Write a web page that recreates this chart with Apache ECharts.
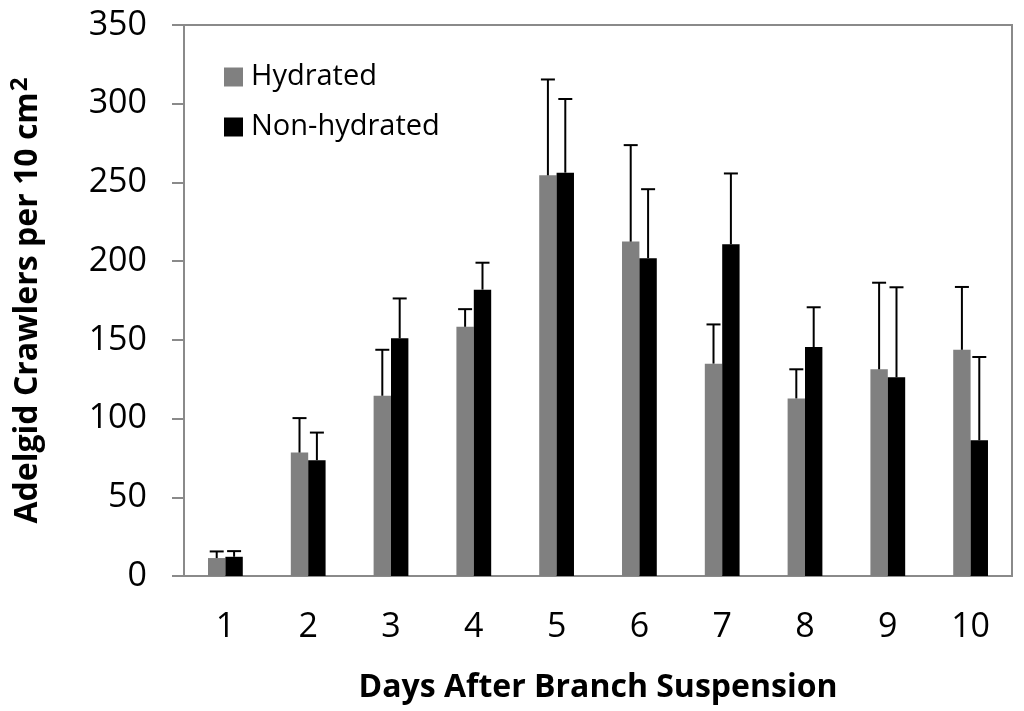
<!DOCTYPE html>
<html>
<head>
<meta charset="utf-8">
<script src="https://cdn.jsdelivr.net/npm/echarts@6/dist/echarts.min.js"></script>
<style>
  html, body { margin: 0; padding: 0; background: #fff; }
  #chart { width: 1024px; height: 711px; }
</style>
</head>
<body>
<div id="chart"></div>
<script>
// days after branch suspension
const days = ['1', '2', '3', '4', '5', '6', '7', '8', '9', '10'];

// mean crawlers per 10 cm2 and upper error (SE)
const hydrated = [11.4, 78.4, 114.5, 158.3, 254.5, 212.4, 134.9, 112.8, 131.3, 143.7];
const hydratedErr = [4.2, 21.9, 29.2, 11.2, 60.9, 61.3, 24.9, 18.5, 55.0, 39.9];
const nonHydrated = [12.2, 73.6, 151.0, 181.9, 256.2, 201.9, 210.7, 145.4, 126.2, 86.2];
const nonHydratedErr = [3.6, 17.5, 25.3, 17.1, 46.8, 43.8, 45.0, 25.3, 57.2, 52.9];

const yTicks = [0, 50, 100, 150, 200, 250, 300, 350];

const FONT = 'Open Sans';
const BAR_FRAC = 0.21;

const chart = echarts.init(document.getElementById('chart'));

// upper error bar with cap, shifted to sit over its own bar
function errorRenderer(side) {
  return function (params, api) {
    const idx = api.value(0);
    const top = api.coord([idx, api.value(1) + api.value(2)]);
    const base = api.coord([idx, api.value(1)]);
    const band = api.size([1, 0])[0];
    const barW = band * BAR_FRAC;
    const x = top[0] + side * barW / 2;
    const capHalf = 7;
    const style = { stroke: '#000', lineWidth: 2 };
    return {
      type: 'group',
      children: [
        { type: 'line', shape: { x1: x, y1: base[1], x2: x, y2: top[1] }, style: style },
        { type: 'line', shape: { x1: x - capHalf, y1: top[1], x2: x + capHalf, y2: top[1] }, style: style }
      ]
    };
  };
}

const option = {
  animation: false,
  backgroundColor: '#fff',
  textStyle: { fontFamily: FONT },
  grid: {
    left: 184,
    right: 12,
    top: 25,
    bottom: 135,
    show: true,
    borderColor: '#8a8a8a',
    borderWidth: 2
  },
  legend: {
    data: ['Hydrated', 'Non-hydrated'],
    orient: 'vertical',
    left: 219,
    top: 57,
    itemWidth: 19,
    itemHeight: 19,
    itemGap: 20,
    icon: 'rect',
    textStyle: { fontFamily: FONT, fontSize: 29, color: '#000', lineHeight: 30, padding: [0, 0, 0, 3] }
  },
  xAxis: {
    type: 'category',
    data: days,
    name: 'Days After Branch Suspension',
    nameLocation: 'middle',
    nameGap: 96,
    nameTextStyle: { fontFamily: FONT, fontSize: 32, fontWeight: 'bold', color: '#000' },
    axisLine: { lineStyle: { color: '#8a8a8a', width: 2 } },
    axisTick: { show: false },
    axisLabel: { fontFamily: FONT, fontSize: 34, color: '#000', margin: 34 }
  },
  yAxis: {
    type: 'value',
    min: yTicks[0],
    max: yTicks[yTicks.length - 1],
    interval: 50,
    name: 'Adelgid Crawlers per 10 cm{sup|2}',
    nameLocation: 'middle',
    nameGap: 136,
    nameRotate: 90,
    nameTextStyle: {
      fontFamily: FONT,
      fontSize: 32,
      fontWeight: 'bold',
      color: '#000',
      lineHeight: 40,
      rich: {
        sup: { fontFamily: FONT, fontSize: 24, fontWeight: 'bold', color: '#000', verticalAlign: 'top', lineHeight: 40, padding: [0, 0, 14, 1] }
      }
    },
    axisLine: { show: true, lineStyle: { color: '#8a8a8a', width: 2 } },
    axisTick: { show: true, length: 12, lineStyle: { color: '#8a8a8a', width: 2 } },
    splitLine: { show: false },
    axisLabel: { fontFamily: FONT, fontSize: 34, color: '#000', margin: 37 }
  },
  series: [
    {
      name: 'Hydrated',
      type: 'bar',
      data: hydrated,
      barWidth: (BAR_FRAC * 100) + '%',
      barGap: '0%',
      itemStyle: { color: '#808080' }
    },
    {
      name: 'Non-hydrated',
      type: 'bar',
      data: nonHydrated,
      barWidth: (BAR_FRAC * 100) + '%',
      barGap: '0%',
      itemStyle: { color: '#000000' }
    },
    {
      name: 'HydratedErr',
      type: 'custom',
      renderItem: errorRenderer(-1),
      data: hydrated.map((v, i) => [i, v, hydratedErr[i]]),
      encode: { x: 0, y: [1, 2] },
      z: 5
    },
    {
      name: 'NonHydratedErr',
      type: 'custom',
      renderItem: errorRenderer(1),
      data: nonHydrated.map((v, i) => [i, v, nonHydratedErr[i]]),
      encode: { x: 0, y: [1, 2] },
      z: 5
    }
  ]
};

chart.setOption(option);
</script>
</body>
</html>
